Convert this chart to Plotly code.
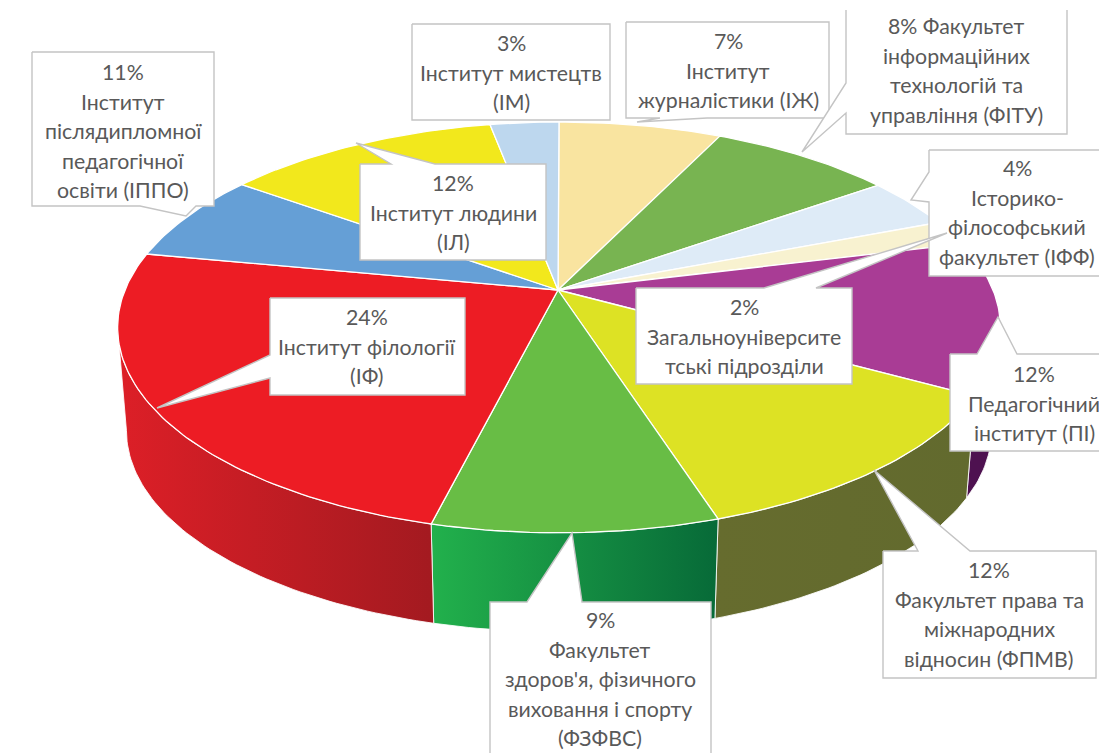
import math
import plotly.graph_objects as go

# ---- data -----------------------------------------------------------------
slice_names = ["Інститут журналістики (ІЖ)", "ФІТУ", "ІФФ", "Загальноуніверситетські", "ПІ",
               "ФПМВ", "ФЗФВС", "ІФ", "ІППО", "ІЛ", "ІМ"]
# drawn share of each slice (clockwise from 12 o'clock)
slice_share = [7.1, 8, 4, 2, 12, 12, 8.8, 24.1, 7, 12, 3]
top_colors = ["#f9e4a0", "#78b451", "#deebf7", "#f8f2d0", "#a93c95",
              "#dde224", "#68bd45", "#ed1c24", "#659fd6", "#f2e81c", "#bdd7ee"]
side_colors = [None, None, None, None, ["#4e1150", "#4e1150"],
               ["#666c2e", "#626a2e"], ["#22b14c", "#076a38"], ["#dd1f27", "#a31a20"],
               None, None, None]

label_percent = [3, 7, 8, 4, 12, 11, 24, 9, 12, 12, 2]
label_lines = [
    ["{}%", "Інститут мистецтв", "(ІМ)"],
    ["{}%", "Інститут", "журналістики (ІЖ)"],
    ["{}% Факультет", "інформаційних", "технологій та", "управління (ФІТУ)"],
    ["{}%", "Історико-", "філософський", "факультет (ІФФ)"],
    ["{}%", "Інститут людини", "(ІЛ)"],
    ["{}%", "Інститут", "післядипломної", "педагогічної", "освіти (ІППО)"],
    ["{}%", "Інститут філології", "(ІФ)"],
    ["{}%", "Факультет", "здоров'я, фізичного", "виховання і спорту", "(ФЗФВС)"],
    ["{}%", "Педагогічний", "інститут (ПІ)"],
    ["{}%", "Факультет права та", "міжнародних", "відносин (ФПМВ)"],
    ["{}%", "Загальноуніверсите", "тські підрозділи"],
]
# ---- callout geometry (page layout, pixels) --------------------------------
label_center = [511, 728, 956, 1017, 453, 123, 367, 600, 1034, 989, 744]
label_first_y = [43, 41, 26, 168, 183, 72, 317, 620, 374, 570, 307]
label_outline = [
    [(412, 24), (610, 24), (610, 120), (412, 120), (412, 24)],
    [(626, 22), (829, 22), (829, 118), (707, 118), (637, 122), (660, 118), (626, 118), (626, 22)],
    [(846, 10), (846, 83), (802, 152), (846, 113), (846, 134), (1067, 134), (1067, 10)],
    [(929, 150), (1110, 150), (1110, 276), (929, 276), (929, 202), (911, 200), (929, 172), (929, 150)],
    [(360, 164), (391, 164), (356, 143), (435, 164), (546, 164), (546, 260), (360, 260), (360, 164)],
    [(32, 52), (214, 52), (214, 206), (196, 206), (186, 216), (140, 206), (32, 206), (32, 52)],
    [(270, 298), (465, 298), (465, 395), (270, 395), (270, 378), (157, 408), (270, 355), (270, 298)],
    [(490, 760), (490, 602), (527, 602), (572, 533), (582, 602), (711, 602), (711, 760)],
    [(950, 354), (977, 354), (998, 317), (1017, 354), (1110, 354), (1110, 451), (950, 451), (950, 354)],
    [(883, 551), (918, 551), (874, 470), (970, 551), (1096, 551), (1096, 678), (883, 678), (883, 551)],
    [(636, 288), (764, 288), (947, 233), (816, 288), (852, 288), (852, 384), (636, 384), (636, 288)],
]
LINE_STEP = 29.6

# ---- pie projection (pixels) -----------------------------------------------
CX, CY = 559, 290
A, B, P = 434, 198.6, 0.182
BOTTOM_S, BOTTOM_CY = 0.98, 394
VIS_FROM, VIS_TO = 100.5, 259.5


def project(deg, s=1.0, cy=CY):
    t = math.radians(deg)
    u, v = math.sin(t), math.cos(t)
    k = 1 + P * v
    return CX + s * A * u / k, cy - s * B * v / k


def arc(a, b, s=1.0, cy=CY):
    n = max(2, int(abs(b - a)) + 2)
    return [project(a + (b - a) * i / (n - 1), s, cy) for i in range(n)]


fig = go.Figure()
total = sum(slice_share)
edges = [0]
for val in slice_share:
    edges.append(edges[-1] + val / total * 360)

# side walls
for i, cols in enumerate(side_colors):
    a, b = max(edges[i], VIS_FROM), min(edges[i + 1], VIS_TO)
    if cols is None or a >= b:
        continue
    pts = arc(a, b) + arc(b, a, BOTTOM_S, BOTTOM_CY)
    pts.append(pts[0])
    fig.add_trace(go.Scatter(
        x=[p[0] for p in pts], y=[p[1] for p in pts], mode="lines", fill="toself",
        line=dict(color="rgba(255,255,255,0.85)", width=1), hoverinfo="skip",
        fillgradient=dict(type="horizontal", colorscale=[[0, cols[0]], [1, cols[1]]]),
    ))

# top faces
for i, name in enumerate(slice_names):
    pts = [(CX - 1, CY)] + arc(edges[i], edges[i + 1]) + [(CX - 1, CY)]
    fig.add_trace(go.Scatter(
        x=[p[0] for p in pts], y=[p[1] for p in pts], mode="lines", fill="toself",
        fillcolor=top_colors[i], line=dict(color="white", width=1.3), name=name, hoverinfo="skip",
    ))

shapes, annotations = [], []
for i, outline in enumerate(label_outline):
    path = "M " + " L ".join(f"{x},{y}" for x, y in outline)
    shapes.append(dict(type="path", path=path, xref="x", yref="y", layer="above",
                       fillcolor="white", line=dict(color="#c4c4c4", width=1.4)))
    for j, text in enumerate(label_lines[i]):
        annotations.append(dict(
            x=label_center[i], y=label_first_y[i] + j * LINE_STEP, xref="x", yref="y",
            text=text.format(label_percent[i]), showarrow=False, xanchor="center", yanchor="middle",
            font=dict(family="Lato, 'Open Sans', sans-serif", size=21.3, color="#595959"),
        ))

fig.update_layout(
    width=1099, height=753, margin=dict(l=0, r=0, t=0, b=0), showlegend=False,
    paper_bgcolor="white", plot_bgcolor="white", hovermode=False,
    xaxis=dict(range=[0, 1099], visible=False, fixedrange=True),
    yaxis=dict(range=[753, 0], visible=False, fixedrange=True),
    shapes=shapes, annotations=annotations,
)
fig.write_html("out.html", config=dict(displayModeBar=False),
               post_script="document.body.style.margin='0';document.body.style.overflow='hidden';")
